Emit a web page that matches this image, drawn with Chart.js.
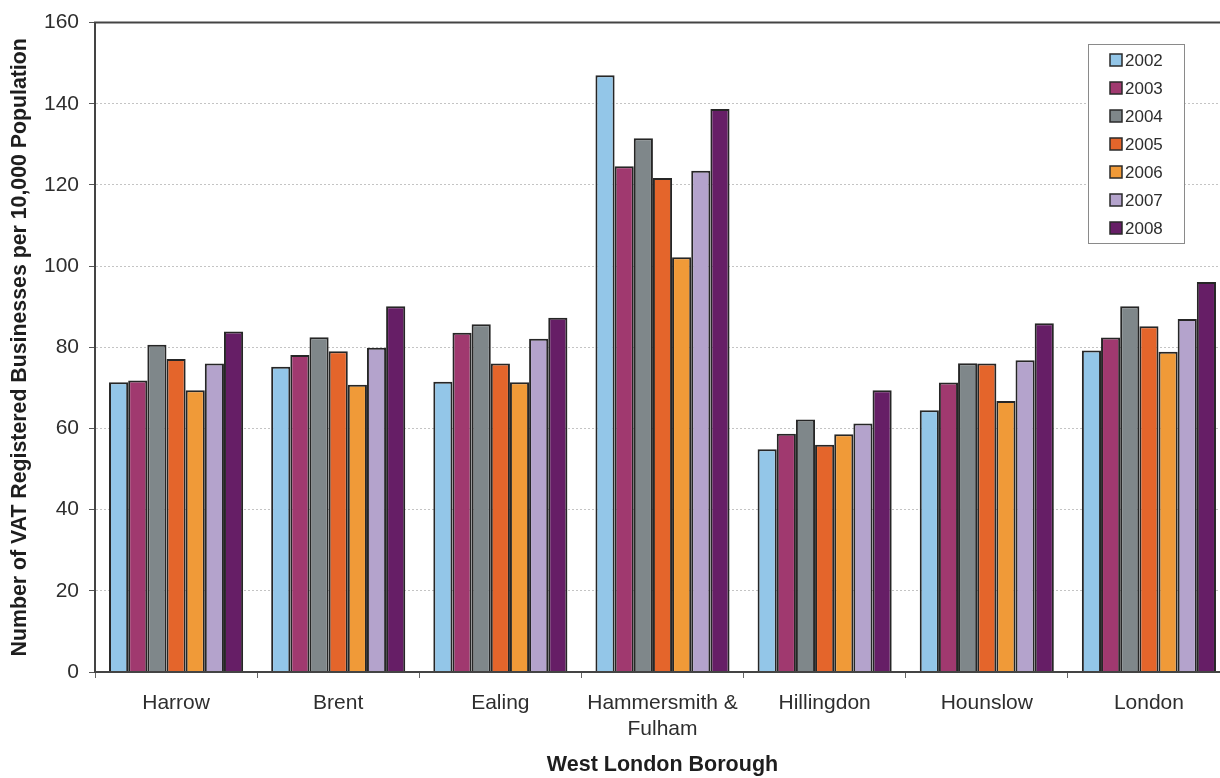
<!DOCTYPE html>
<html>
<head>
<meta charset="utf-8">
<title>VAT Registered Businesses per 10,000 Population</title>
<script src="https://cdn.jsdelivr.net/npm/chart.js@4/dist/chart.umd.min.js"></script>
<style>
  html, body { margin: 0; padding: 0; background: #ffffff; overflow: hidden; }
  #wrap { position: relative; width: 1232px; height: 778px; }
</style>
</head>
<body>
<div id="wrap"><canvas id="chart"></canvas></div>
<script>
// Boroughs along the x axis
const boroughs = ['Harrow', 'Brent', 'Ealing', ['Hammersmith &', 'Fulham'], 'Hillingdon', 'Hounslow', 'London'];

// One series per year
const years = ['2002', '2003', '2004', '2005', '2006', '2007', '2008'];
const v2002 = [71.4, 75.2, 71.5, 147.0, 54.9, 64.5, 79.2];
const v2003 = [71.8, 78.1, 83.6, 124.6, 58.7, 71.3, 82.4];
const v2004 = [80.6, 82.5, 85.7, 131.5, 62.2, 76.1, 90.1];
const v2005 = [77.1, 79.0, 76.0, 121.7, 56.0, 76.0, 85.2];
const v2006 = [69.4, 70.8, 71.4, 102.2, 58.6, 66.8, 78.9];
const v2007 = [76.0, 79.9, 82.1, 123.5, 61.2, 76.8, 87.0];
const v2008 = [83.9, 90.1, 87.3, 138.7, 69.4, 85.9, 96.1];

// Value axis range
const yMin = 0;
const yMax = 160;
const yStep = 20;

const yearValues = [v2002, v2003, v2004, v2005, v2006, v2007, v2008];
const yearColours = ['#93c6e8', '#a0396f', '#7f878a', '#e4652b', '#f09a38', '#b4a3cc', '#661e66'];

const FONT = '"Liberation Sans", Arial, Helvetica, sans-serif';

// Boxed legend in the upper right of the plot
const boxedLegend = {
  id: 'boxedLegend',
  afterDraw(chart) {
    const ctx = chart.ctx;
    const x0 = 1088, y0 = 44, w = 96, h = 199;
    const rowGap = 28, firstRow = 60;
    ctx.save();
    ctx.fillStyle = '#ffffff';
    ctx.fillRect(x0, y0, w, h);
    ctx.strokeStyle = '#8a8a8a';
    ctx.lineWidth = 1;
    ctx.strokeRect(x0 + 0.5, y0 + 0.5, w, h);
    ctx.font = '17px ' + FONT;
    ctx.textBaseline = 'middle';
    ctx.textAlign = 'left';
    chart.data.datasets.forEach((ds, i) => {
      const cy = firstRow + i * rowGap;
      ctx.fillStyle = ds.backgroundColor;
      ctx.fillRect(1110, cy - 6, 12, 12);
      ctx.strokeStyle = '#2a2a2a';
      ctx.lineWidth = 1.5;
      ctx.strokeRect(1110, cy - 6, 12, 12);
      ctx.fillStyle = '#2e2e2e';
      ctx.fillText(ds.label, 1125, cy + 1);
    });
    ctx.restore();
  }
};

// Solid frame line along the top of the plot area
const topFrame = {
  id: 'topFrame',
  afterDatasetsDraw(chart) {
    const { ctx, chartArea } = chart;
    ctx.save();
    ctx.strokeStyle = '#444444';
    ctx.lineWidth = 2;
    ctx.beginPath();
    ctx.moveTo(chartArea.left - 1, chartArea.top);
    ctx.lineTo(chartArea.right + 2, chartArea.top);
    ctx.stroke();
    ctx.restore();
  }
};

new Chart(document.getElementById('chart'), {
  type: 'bar',
  data: {
    labels: boroughs,
    datasets: years.map((y, i) => ({
      label: y,
      data: yearValues[i],
      backgroundColor: yearColours[i],
      borderColor: '#262626',
      borderWidth: 2,
      categoryPercentage: 0.827,
      barPercentage: 1.0
    }))
  },
  options: {
    responsive: true,
    maintainAspectRatio: false,
    devicePixelRatio: 1,
    animation: false,
    layout: { padding: { top: 19, right: 2, left: 0, bottom: 0 } },
    plugins: {
      legend: { display: false },
      tooltip: { enabled: false }
    },
    scales: {
      x: {
        afterFit(scale) { scale.height = 106; },
        grid: {
          display: true,
          drawOnChartArea: false,
          drawTicks: true,
          tickLength: 6,
          tickColor: '#666666',
          offset: true
        },
        border: { display: true, color: '#444444', width: 2, z: 1 },
        ticks: {
          color: '#2e2e2e',
          font: { family: FONT, size: 21 },
          padding: 13,
          maxRotation: 0,
          autoSkip: false
        },
        title: {
          display: true,
          text: 'West London Borough',
          color: '#1e1e1e',
          font: { family: FONT, size: 21.5, weight: 'bold' },
          padding: { top: 0, bottom: 0 }
        }
      },
      y: {
        min: yMin,
        max: yMax,
        afterFit(scale) { scale.width = 95; },
        ticks: {
          stepSize: yStep,
          color: '#2e2e2e',
          font: { family: FONT, size: 21 },
          padding: 10
        },
        grid: {
          color: (c) => (c.tick && (c.tick.value === yMin || c.tick.value === yMax)) ? 'rgba(0,0,0,0)' : '#c4c4c4',
          lineWidth: 1,
          drawTicks: true,
          tickLength: 6,
          tickColor: '#555555'
        },
        border: { display: true, color: '#444444', width: 2, dash: [2, 2] },
        title: {
          display: true,
          text: 'Number of VAT Registered Businesses per 10,000 Population',
          color: '#1e1e1e',
          font: { family: FONT, size: 21.3, weight: 'bold' },
          padding: { top: 7, bottom: 0 }
        }
      }
    }
  },
  plugins: [topFrame, boxedLegend]
});
</script>
</body>
</html>
